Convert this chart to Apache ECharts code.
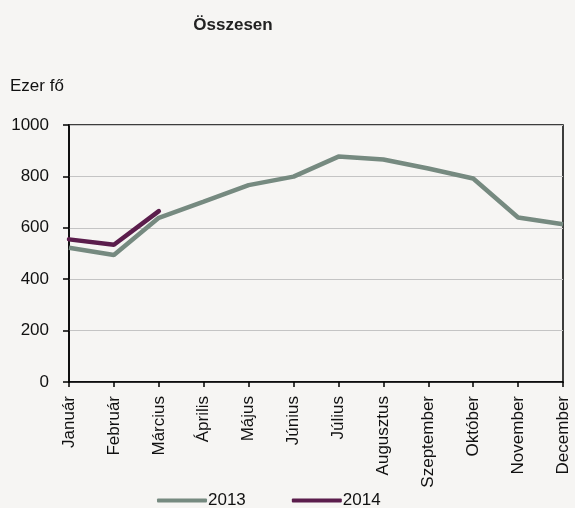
<!DOCTYPE html>
<html>
<head>
<meta charset="utf-8">
<script src="https://cdn.jsdelivr.net/npm/echarts@6/dist/echarts.min.js"></script>
<style>
  html, body { margin: 0; padding: 0; background: #f6f5f3; }
  #chart { width: 575px; height: 508px; }
</style>
</head>
<body>
<div id="chart"></div>
<script>
const months = ["Január", "Február", "Március", "Április", "Május", "Június",
  "Július", "Augusztus", "Szeptember", "Október", "November", "December"];
const data2013 = [522, 494, 639, 702, 766, 799, 877, 866, 831, 792, 640, 614];
const data2014 = [555, 534, 665];
const yTicks = [0, 200, 400, 600, 800, 1000];

const font = "'Liberation Sans Narrow', 'Liberation Sans', Arial, sans-serif";

const chart = echarts.init(document.getElementById("chart"));

const options = {
  backgroundColor: "#f6f5f3",
  animation: false,
  textStyle: { fontFamily: font },
  title: {
    text: "Összesen",
    left: 228,
    top: 12,
    textAlign: "center",
    textStyle: { fontFamily: font, fontSize: 17, fontWeight: "bold", color: "#222" },
  },
  legend: {
    top: 492,
    left: 157,
    padding: 0,
    itemGap: 46,
    itemWidth: 50,
    itemHeight: 4,
    icon: "roundRect",
    textStyle: { fontFamily: font, fontSize: 17, color: "#111", padding: [0, 0, 0, -4] },
    data: ["2013", "2014"],
  },
  grid: {
    left: 69,
    right: 12,
    top: 125,
    bottom: 126,
    show: true,
    borderColor: "#000",
    borderWidth: 1.5,
  },
  xAxis: {
    type: "category",
    boundaryGap: false,
    data: months,
    axisLine: { show: true, lineStyle: { color: "#000", width: 1.5 } },
    axisTick: { show: true, alignWithLabel: true, length: 5, lineStyle: { color: "#000", width: 1.5 } },
    axisLabel: {
      interval: 0,
      rotate: 90,
      margin: 14,
      fontFamily: font,
      fontSize: 17,
      color: "#111",
    },
    splitLine: { show: false },
  },
  yAxis: {
    type: "value",
    min: yTicks[0],
    max: yTicks[yTicks.length - 1],
    interval: 200,
    name: "Ezer fő",
    nameLocation: "end",
    nameGap: 30,
    nameTextStyle: { fontFamily: font, fontSize: 17, color: "#111", align: "left", padding: [0, 0, 0, -59] },
    axisLine: { show: true, lineStyle: { color: "#000", width: 1.5 } },
    axisTick: { show: true, inside: false, length: 6, lineStyle: { color: "#000", width: 1.5 } },
    axisLabel: {
      fontFamily: font,
      fontSize: 17,
      color: "#111",
      margin: 20,
      formatter: (v) => String(v),
    },
    splitLine: { show: true, lineStyle: { color: "#c4c4c4", width: 1 } },
  },
  series: [
    {
      name: "2013",
      type: "line",
      data: data2013,
      color: "#768a80",
      symbol: "none",
      lineStyle: { width: 4.5, color: "#768a80" },
    },
    {
      name: "2014",
      type: "line",
      data: data2014,
      color: "#5b1d4c",
      symbol: "none",
      lineStyle: { width: 4.5, color: "#5b1d4c", cap: "round" },
    },
  ],
};

chart.setOption(options);
</script>
</body>
</html>
